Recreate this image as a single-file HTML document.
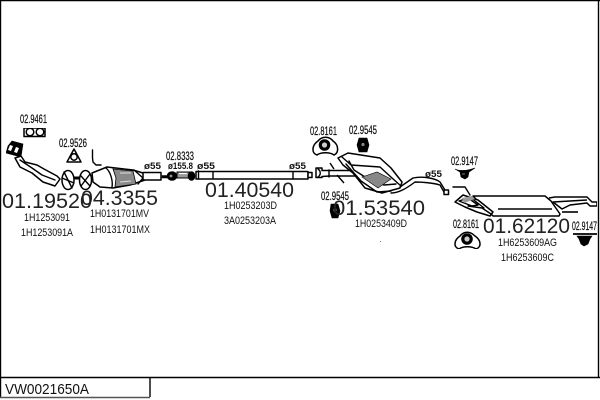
<!DOCTYPE html>
<html><head><meta charset="utf-8"><style>
html,body{margin:0;padding:0;background:#fff}
svg{display:block}
text{font-family:"Liberation Sans",sans-serif;fill:#111}
.b{font-size:21.5px;fill:#222}
.s{font-size:11px;fill:#333}
.l{font-size:12px;fill:#000;stroke:#000;stroke-width:.2}
.d{font-size:9.5px;font-weight:bold;fill:#000}
.k{fill:none;stroke:#000;stroke-width:1.4;stroke-linejoin:round;stroke-linecap:round}
.w{fill:#fff;stroke:#000;stroke-width:1.5;stroke-linejoin:round}
.f{fill:#000;stroke:#000;stroke-width:.6}
.g{fill:#999;stroke:#000;stroke-width:1}
</style></head><body>
<svg width="600" height="400" viewBox="0 0 600 400" xmlns="http://www.w3.org/2000/svg">
<defs><filter id="bl" x="0" y="0" width="100%" height="100%"><feGaussianBlur stdDeviation="0.35"/></filter></defs>
<rect x="0" y="0" width="600" height="400" fill="#fff"/>
<path d="M.5 0V398M0 .5H600M598.5 0V377" fill="none" stroke="#000" stroke-width="1.4"/>
<path d="M0 377.5H600" stroke="#000" stroke-width="1.6"/>
<path d="M150 377V397" stroke="#000" stroke-width="1.4"/>
<path d="M0 397.5H150" stroke="#555" stroke-width="1.4"/>
<text x="5" y="394" font-size="15" textLength="84" lengthAdjust="spacingAndGlyphs" fill="#000">VW0021650A</text>

<g filter="url(#bl)">
<!-- gasket 02.9461 -->
<path d="M24 128h21v8.500H24z" class="w" stroke-width="2"/>
<circle cx="30" cy="132" r="3.8" class="w" stroke-width="1.3"/><circle cx="40" cy="132" r="3.800" class="w" stroke-width="1.3"/>
<!-- gasket 02.9526 -->
<path d="M74 149L81 162H67Z" class="w" stroke-width="2.4"/>
<circle cx="74" cy="157" r="3.2" class="w"/>
<!-- manifold -->
<path d="M12 141L23 144 21 157 6 153 8 146Z" class="f"/>
<path d="M10 145l3 1-2 5-3-1zM16 147l3 1-2 5-3-1z" fill="#fff"/>
<path d="M15 158L20 167 32 173 43 182 55 186 60 179 57 176 44 169 37 165 25 162 21 156Z" class="w"/>
<path d="M20 160L32 168 42 175 55 180" class="k"/>
<!-- flexible joints -->
<ellipse cx="68" cy="180" rx="6" ry="9.500" class="w" stroke-width="2.200"/>
<path d="M62 178L74 183M64 172L72 188" class="k" stroke-width="1.600"/>
<path d="M74 178H81" stroke="#000" stroke-width="3"/>
<ellipse cx="85.500" cy="180" rx="6" ry="9.500" class="w" stroke-width="2.200"/>
<path d="M81 176L90 186M81 186L90 174" class="k" stroke-width="1.600"/>
<!-- sensor -->
<path d="M92.500 150V158L93 162 96 165 101 165" class="k" stroke-width="2.400"/>
<!-- catalyst -->
<path d="M92 173L107 167 133 170 143 173 145 180 130 185 113 188 100 187 93 182Z" class="w"/>
<path d="M106 168C111 172 113 182 112 187" class="k"/>
<path d="M113 169L133 171 136 184 115 187 116 178Z" fill="#8a8a8a" stroke="#000" stroke-width=".8"/>
<path d="M120 173l11 0M120 182l11 -1" stroke="#ddd" stroke-width="1"/>
<path d="M134 170L143 178 138 184" class="k"/>
<path d="M143 172.500H161V180H143Z" class="w" stroke-width="1.600"/>
<path d="M162 175.500H167V178H162Z" class="f"/>
<!-- 02.8333 clamp & pipe -->
<ellipse cx="172" cy="176" rx="5" ry="4.500" class="f"/>
<circle cx="171" cy="176" r="1.400" fill="#999"/>
<path d="M177 172H190V178H177Z" class="g"/>
<path d="M179 173.500H187" stroke="#fff" stroke-width="1.200"/>
<ellipse cx="191.500" cy="176" rx="3.500" ry="4.500" class="f"/>
<!-- middle pipe -->
<path d="M196 171.500H308V179H196Z" class="w" stroke-width="1.600"/>
<path d="M198.500 171V179M213 172V178M293 172V179" class="k"/>
<path d="M308 172.500h4v5h-4z" class="w"/>
<!-- hanger 02.8161 top -->
<path d="M317 155C311 153 312 145 318 141 322 136 329 136 333 141 339 145 339 153 334 155 330 152 321 152 317 155Z" class="w" stroke-width="1.900"/>
<circle cx="324.500" cy="145" r="5.500" class="f"/><circle cx="324.500" cy="145" r="2.600" fill="#ccc"/>
<!-- hanger 02.9545 top -->
<path d="M359 138H367L369 145 367 152H359L357 145Z" class="f"/>
<circle cx="363" cy="144.500" r="1.600" fill="#888"/>
<!-- front of silencer -->
<path d="M316 168H322V170.500H352L356 169 357 176H330L322 176.500V177.500H316Z" class="w"/>
<path d="M318 169C321 171 321 175 318 177M329 170V177" class="k"/>
<path d="M330 163L334 169M337 175L344 183" stroke="#000" stroke-width="1.400"/>
<!-- silencer body -->
<path d="M338 158L348 153 380 158 391 168 402 182 400 188 382 193 365 188 353 173 343 165Z" class="w" stroke-width="1.700"/>
<path d="M342 157L351 165 380 167 392 178 401 186M346 164L361 181 377 192 391 191M349 161L354 170M354 170L365 177 384 185 396 184" class="k"/>
<path d="M362 177L377 172 391 179 378 188Z" fill="#888" stroke="#000" stroke-width=".6"/>
<path d="M400 187L413 178C422 176 435 178 440 182L445 190" class="k" stroke-width="1.500"/>
<path d="M391 193C399 193 407 188 415 182 422 182 434 183 440 185L444 192" class="k" stroke-width="1.500"/>
<rect x="444" y="190" width="4.500" height="4.500" class="w" stroke-width="1.200"/>
<!-- 02.9545 lower -->
<path d="M331 204H338L340 211 338 218H332L330 211Z" class="f"/>
<circle cx="335" cy="210" r="1.600" fill="#888"/>
<!-- 02.9147 upper -->
<path d="M455 169C459 171 466 171 475 168L469 172 468 177 465 179 461 177 460 172Z" class="f" stroke-width="1.200"/>
<path d="M462 174h3" stroke="#777"/>
<!-- rear silencer -->
<path d="M453 187H465L470 195" class="k" stroke-width="2.200"/>
<path d="M473 196H545L551 201 560 214 559 216H493L488 211Z" class="w" stroke-width="1.700"/>
<path d="M455 202L463 195 478 200 493 212 490 216 477 212 465 207Z" class="w" stroke-width="1.500"/>
<path d="M459 201L468 198 478 205 472 206ZM468 206L482 208 491 214M470 197L484 208" class="k"/>
<path d="M462 198L472 196 475 199 464 203Z" fill="#999"/>
<path d="M498 209H552" stroke="#000" stroke-width="1.600"/>
<path d="M562 212H578" stroke="#000" stroke-width="1.600"/>
<path d="M549 198L555 197H587L592 202H597V206H590L587 203 570 205 562 209 553 202 587 200" class="w" stroke-width="1.300"/>
<!-- 02.8161 lower -->
<path d="M459 249C453 247 454 240 460 236 464 231 470 231 475 236 481 240 482 247 476 249 472 246 463 246 459 249Z" class="w" stroke-width="1.900"/>
<circle cx="467" cy="239" r="5.500" class="f"/><circle cx="467" cy="239" r="2.600" fill="#ccc"/>
<!-- 02.9147 lower -->
<path d="M573 234H597" stroke="#000" stroke-width="1.800"/>
<path d="M577 236H592L590 239 588 244 584 246 581 244 579 239Z" class="f"/>
</g>

<!-- part labels -->
<g class="l">
<text x="20" y="123" textLength="27" lengthAdjust="spacingAndGlyphs">02.9461</text>
<text x="59" y="147" textLength="28" lengthAdjust="spacingAndGlyphs">02.9526</text>
<text x="166" y="160" textLength="28" lengthAdjust="spacingAndGlyphs">02.8333</text>
<text x="310" y="135" textLength="27" lengthAdjust="spacingAndGlyphs">02.8161</text>
<text x="349" y="134" textLength="28" lengthAdjust="spacingAndGlyphs">02.9545</text>
<text x="321" y="200" textLength="28" lengthAdjust="spacingAndGlyphs">02.9545</text>
<text x="451" y="165" textLength="27" lengthAdjust="spacingAndGlyphs">02.9147</text>
<text x="453" y="228" textLength="26" lengthAdjust="spacingAndGlyphs">02.8161</text>
<text x="572" y="230" textLength="25" lengthAdjust="spacingAndGlyphs">02.9147</text>
</g>
<g class="d">
<text x="144" y="169" textLength="17" lengthAdjust="spacingAndGlyphs">ø55</text>
<text x="168" y="169" textLength="25" lengthAdjust="spacingAndGlyphs">ø155.8</text>
<text x="197" y="169" textLength="18" lengthAdjust="spacingAndGlyphs">ø55</text>
<text x="289" y="169" textLength="17" lengthAdjust="spacingAndGlyphs">ø55</text>
<text x="425" y="177" textLength="17" lengthAdjust="spacingAndGlyphs">ø55</text>
</g>
<!-- big numbers -->
<text class="b" x="2" y="208" textLength="90" lengthAdjust="spacingAndGlyphs">01.19520</text>
<text class="b" x="81" y="205" textLength="77" lengthAdjust="spacingAndGlyphs">04.3355</text>
<text class="b" x="205" y="197" textLength="89" lengthAdjust="spacingAndGlyphs">01.40540</text>
<text class="b" x="333" y="215" textLength="92" lengthAdjust="spacingAndGlyphs">01.53540</text>
<text class="b" x="483" y="233" textLength="87" lengthAdjust="spacingAndGlyphs">01.62120</text>
<!-- references -->
<g class="s">
<text x="24" y="221" textLength="46" lengthAdjust="spacingAndGlyphs">1H1253091</text>
<text x="21" y="236" textLength="52" lengthAdjust="spacingAndGlyphs">1H1253091A</text>
<text x="90" y="217" textLength="59" lengthAdjust="spacingAndGlyphs">1H0131701MV</text>
<text x="90" y="233" textLength="60" lengthAdjust="spacingAndGlyphs">1H0131701MX</text>
<text x="224" y="209" textLength="53" lengthAdjust="spacingAndGlyphs">1H0253203D</text>
<text x="224" y="224" textLength="52" lengthAdjust="spacingAndGlyphs">3A0253203A</text>
<text x="355" y="227" textLength="52" lengthAdjust="spacingAndGlyphs">1H0253409D</text>
<text x="498" y="246" textLength="59" lengthAdjust="spacingAndGlyphs">1H6253609AG</text>
<text x="501" y="261" textLength="53" lengthAdjust="spacingAndGlyphs">1H6253609C</text>
</g>
<rect x="380" y="241" width="1" height="1" fill="#777"/>
</svg>
</body></html>
